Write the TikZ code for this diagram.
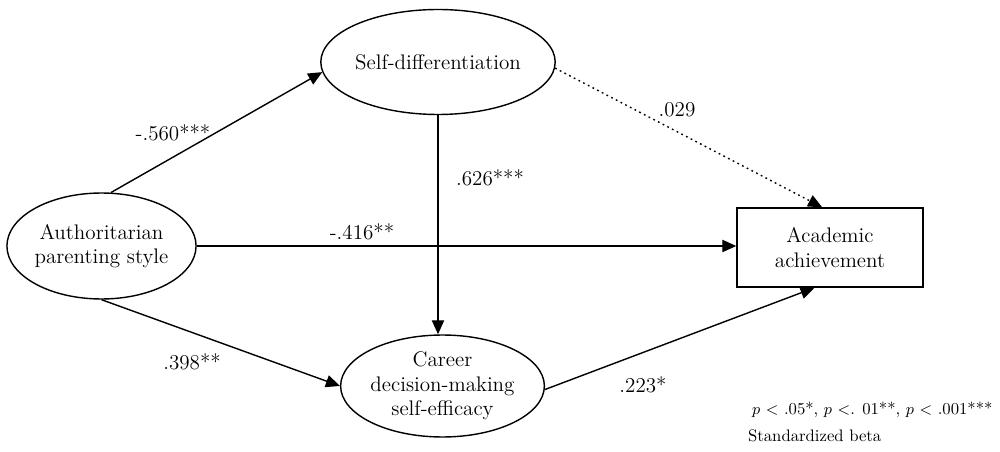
\documentclass[tikz,border=0pt]{standalone}
\usepackage{tikz}
\usetikzlibrary{arrows.meta, positioning, shapes.geometric, calc}

\begin{document}
\begin{tikzpicture} [
        x=0.02cm, y=-0.02cm,
        latent/.style={draw, ellipse, thick, inner sep=0pt, align=center, font=\fontsize{12}{14}\selectfont},
        observed/.style={draw, rectangle, thick, inner sep=0pt, align=center, font=\fontsize{12}{14}\selectfont},
        coef/.style={inner sep=1pt, font=\fontsize{12}{14}\selectfont},
        note/.style={inner sep=1pt, anchor=west, font=\fontsize{9.5}{11}\selectfont},
        arrow/.style={-{Triangle[length=8pt, width=7pt]}, thick},
        nsarrow/.style={arrow, dash pattern=on 1pt off 2pt}
    ]
    \useasboundingbox (0,0) rectangle (1000,452);

    % Variables
    \node[latent, minimum width=3.68cm, minimum height=2.12cm] (auth) at (101.5,246) {Authoritarian\\parenting style};
    \node[latent, minimum width=3.84cm, minimum height=2.1cm] (selfdiff) at (438,62) {Self-differentiation};
    \node[latent, minimum width=3.9cm, minimum height=2.04cm] (career) at (442.5,386) {Career\\decision-making\\self-efficacy};
    \node[observed, minimum width=3.72cm, minimum height=1.58cm] (acad) at (830,247.5) {Academic\\achievement};

    % Paths
    \draw[arrow] (auth.80) -- (selfdiff.185);
    \draw[arrow] (auth.east) -- (auth.east -| acad.west);
    \draw[arrow] (auth.south) -- (career.west);
    \draw[arrow] (selfdiff.south) -- (selfdiff.south |- career.north);
    \draw[arrow] (career.-2) -- (acad.249);
    \draw[nsarrow] (selfdiff.-3) -- (acad.101);

    % Coefficients
    \node[coef] (cAS) at (173,133) {-.560***};
    \node[coef] (cAA) at (362,232) {-.416**};
    \node[coef] (cAC) at (192,362) {.398**};
    \node[coef] (cSC) at (490,178) {.626***};
    \node[coef] (cSA) at (677,110) {.029};
    \node[coef] (cCA) at (643,385) {.223*};

    % Note
    \node[note] (sig) at (750,410) {$p$ $<$ .05*, $p$ $<$. 01**, $p$ $<$ .001***};
    \node[note] (beta) at (746,436) {Standardized beta};
\end{tikzpicture}
\end{document}
